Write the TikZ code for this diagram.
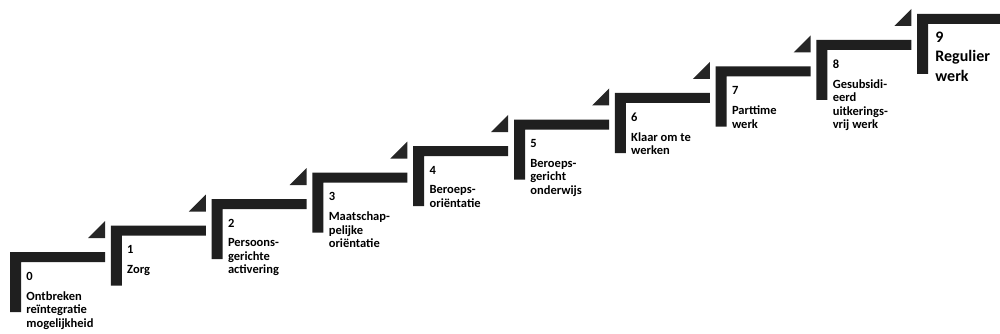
\documentclass[tikz,border=0pt]{standalone}
\usepackage{fontspec}
\setmainfont{Carlito}
\usetikzlibrary{positioning}

\begin{document}
\begin{tikzpicture}[x=1pt,y=-1pt,thick,
		stepnum/.style={anchor=west,inner sep=0pt,font=\bfseries\fontsize{12.5}{13.5}\selectfont},
		steplab/.style={anchor=north west,inner sep=0pt,align=left,font=\bfseries\fontsize{12.5}{13.5}\selectfont}]
		\clip (0,0) rectangle (1000,334);
		\fill[white] (0,0) rectangle (1000,334);
		\foreach \ii/\lab in {0/{Ontbreken\\reïntegratie\\mogelijkheid},1/{Zorg},2/{Persoons-\\gerichte\\activering},
			3/{Maatschap-\\pelijke\\oriëntatie},4/{Beroeps-\\oriëntatie},5/{Beroeps-\\gericht\\onderwijs},
			6/{Klaar om te\\werken},7/{Parttime\\werk},8/{Gesubsidi-\\eerd\\uitkerings-\\vrij werk}}
		{
			\fill[black!88] (10+100.8*\ii,252-26.5*\ii)--++(95,0)--++(0,10)--++(-84,0)--++(0,50)--++(-11,0)--cycle;
			\fill[black!85] (88+100.8*\ii,238-26.5*\ii)--++(17,0)--++(0,-17)--cycle;
			\node[stepnum] (num\ii) at (26+100.8*\ii,276-26.5*\ii) {\ii};
			\node[steplab] (lab\ii) at (26+100.8*\ii,291-26.5*\ii) {\lab};
		}
		\fill[black!88] (917,14)--++(95,0)--++(0,10)--++(-84,0)--++(0,50)--++(-11,0)--cycle;
		\node[stepnum,font=\bfseries\fontsize{16}{20}\selectfont] (num9) at (935,37) {9};
		\node[steplab,font=\bfseries\fontsize{16}{20}\selectfont,below=7pt of num9.south west,anchor=north west] (lab9) {Regulier\\werk};
	\end{tikzpicture}
\end{document}
